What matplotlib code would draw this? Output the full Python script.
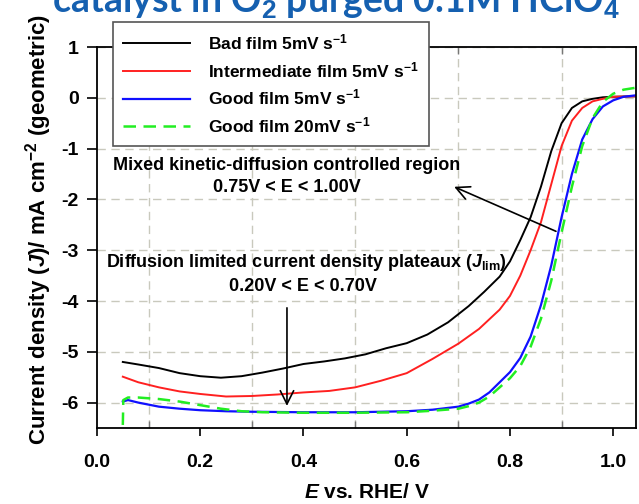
import numpy as np
import matplotlib
matplotlib.use("Agg")
import matplotlib.pyplot as plt

# ====== Data ======
bad_x = [0.05, 0.08, 0.12, 0.16, 0.20, 0.24, 0.28, 0.32, 0.36, 0.40, 0.44, 0.48,
         0.52, 0.56, 0.60, 0.64, 0.68, 0.72, 0.75, 0.78, 0.80, 0.82, 0.84, 0.86,
         0.88, 0.90, 0.92, 0.94, 0.96, 0.98, 1.00, 1.045]
bad_y = [-5.20, -5.25, -5.32, -5.42, -5.48, -5.51, -5.48, -5.41, -5.33, -5.24, -5.19, -5.13,
         -5.05, -4.93, -4.83, -4.66, -4.42, -4.10, -3.82, -3.52, -3.22, -2.80, -2.35, -1.75,
         -1.05, -0.50, -0.20, -0.07, -0.02, 0.01, 0.02, 0.03]

inter_x = [0.05, 0.08, 0.12, 0.16, 0.20, 0.25, 0.30, 0.35, 0.40, 0.45, 0.50, 0.55,
           0.60, 0.65, 0.70, 0.74, 0.78, 0.80, 0.82, 0.84, 0.86, 0.88, 0.90, 0.92,
           0.94, 0.96, 0.98, 1.00, 1.045]
inter_y = [-5.49, -5.60, -5.70, -5.78, -5.83, -5.88, -5.87, -5.84, -5.80, -5.77, -5.70, -5.57,
           -5.42, -5.14, -4.84, -4.55, -4.17, -3.90, -3.50, -3.00, -2.45, -1.70, -0.95, -0.45,
           -0.20, -0.07, -0.02, 0.02, 0.03]

good5_x = [0.05, 0.06, 0.08, 0.12, 0.16, 0.20, 0.25, 0.30, 0.40, 0.50, 0.60, 0.65,
           0.70, 0.72, 0.74, 0.76, 0.78, 0.80, 0.82, 0.84, 0.86, 0.88, 0.90, 0.92,
           0.94, 0.96, 0.98, 1.00, 1.02, 1.045]
good5_y = [-5.98, -5.95, -6.00, -6.08, -6.12, -6.15, -6.17, -6.18, -6.19, -6.19, -6.17, -6.14,
           -6.08, -6.02, -5.94, -5.80, -5.60, -5.40, -5.12, -4.70, -4.08, -3.30, -2.35, -1.50,
           -0.82, -0.42, -0.17, -0.05, 0.02, 0.05]

good20_x = [0.05, 0.051, 0.06, 0.08, 0.12, 0.16, 0.20, 0.24, 0.28, 0.32, 0.40, 0.50,
            0.60, 0.65, 0.70, 0.72, 0.74, 0.76, 0.78, 0.80, 0.82, 0.84, 0.86, 0.88,
            0.90, 0.92, 0.94, 0.96, 0.98, 1.00, 1.02, 1.045]
good20_y = [-6.44, -5.95, -5.90, -5.90, -5.93, -5.98, -6.05, -6.12, -6.17, -6.19, -6.20, -6.20,
            -6.19, -6.16, -6.12, -6.07, -6.00, -5.88, -5.70, -5.52, -5.28, -4.90, -4.35, -3.60,
            -2.65, -1.75, -0.95, -0.40, -0.08, 0.08, 0.16, 0.20]

labels = ["Bad film 5mV s$^{\\mathbf{-1}}$",
          "Intermediate film 5mV s$^{\\mathbf{-1}}$",
          "Good film 5mV s$^{\\mathbf{-1}}$",
          "Good film 20mV s$^{\\mathbf{-1}}$"]
x_ticks = [0.0, 0.2, 0.4, 0.6, 0.8, 1.0]
x_grid = [0.1, 0.3, 0.5, 0.7, 0.9]
y_ticks = [1, 0, -1, -2, -3, -4, -5, -6]
# ===========================================

plt.rcParams["font.family"] = ["Liberation Sans", "DejaVu Sans"]
plt.rcParams["font.weight"] = "bold"
plt.rcParams["axes.unicode_minus"] = False
plt.rcParams["mathtext.fontset"] = "custom"
plt.rcParams["mathtext.rm"] = "Liberation Sans:bold"
plt.rcParams["mathtext.bf"] = "Liberation Sans:bold"
plt.rcParams["mathtext.it"] = "Liberation Sans:italic:bold"

fig = plt.figure(figsize=(6.39, 5.04), dpi=100)
ax = fig.add_axes([97 / 639, 76 / 504, (639 - 97) / 639 - 0.004, (429 - 48) / 504])

ax.plot(bad_x, bad_y, color="black", lw=1.4, label=labels[0])
ax.plot(inter_x, inter_y, color="#ff2020", lw=1.4, label=labels[1])
ax.plot(good5_x, good5_y, color="#1010ff", lw=1.6, label=labels[2])
ax.plot(good20_x, good20_y, color="#22ee22", lw=1.8, dashes=(5, 3), label=labels[3])

ax.set_xlim(0, 1.045)
ax.set_ylim(-6.5, 1)
ax.set_xticks(x_ticks)
ax.set_xticklabels([f"{v:.1f}" for v in x_ticks])
ax.set_yticks(y_ticks)
ax.set_xticks(x_grid, minor=True)
ax.tick_params(axis="x", which="major", direction="out", length=6, width=1.2,
               labelsize=14, pad=13)
ax.tick_params(axis="y", which="major", direction="out", length=7, width=1.2,
               labelsize=14, pad=6)
ax.tick_params(axis="x", which="minor", direction="in", length=5, width=1,
               top=True, color="#777777")

# grid: horizontal at integers, vertical at odd tenths
ax.grid(True, axis="y", which="major", ls=(0, (6, 4)), color="#c9c9bd", lw=1)
ax.grid(True, axis="x", which="minor", ls=(0, (6, 4)), color="#c9c9bd", lw=1)
for s in ax.spines.values():
    s.set_linewidth(1.3)

ax.set_xlabel("$\\mathit{E}$ vs. RHE/ V", fontsize=15, fontweight="bold")
ax.xaxis.set_label_coords((368 - 97) / 542, (429 - 503) / 381)
ax.xaxis.label.set_va("bottom")
ax.set_ylabel("Current density ($\\mathit{J}$)/ mA cm$^{\\mathbf{-2}}$ (geometric)",
              fontsize=16, fontweight="bold")
ax.yaxis.set_label_coords((38 - 97) / 542, (429 - 230) / 381)
ax.yaxis.label.set_va("center")

# annotations
ax.text(0.368, -1.34, "Mixed kinetic-diffusion controlled region", ha="center",
        va="center", fontsize=13)
ax.text(0.368, -1.77, "0.75V < E < 1.00V", ha="center", va="center", fontsize=13)
ax.annotate("", xy=(0.687, -1.73), xytext=(0.894, -2.65),
            arrowprops=dict(arrowstyle="->", lw=1.2, color="black", mutation_scale=24))

ax.text(0.405, -3.25, "Diffusion limited current density plateaux ($\\mathit{J}_{\\mathregular{lim}}$)",
        ha="center", va="center", fontsize=13)
ax.text(0.399, -3.72, "0.20V < E < 0.70V", ha="center", va="center", fontsize=13)
ax.annotate("", xy=(0.368, -6.12), xytext=(0.368, -4.08),
            arrowprops=dict(arrowstyle="->", lw=1.2, color="black", mutation_scale=24))

leg = ax.legend(loc="upper left", bbox_to_anchor=(113 / 639, 1 - 22 / 504),
                bbox_transform=fig.transFigure, borderaxespad=0, fontsize=12.5,
                handlelength=3.85, handletextpad=1.0, labelspacing=0.45,
                borderpad=0.6, fancybox=False, framealpha=1)
leg.get_frame().set_edgecolor("#555555")
leg.get_frame().set_linewidth(1.2)
leg.set_zorder(5)

# title, cut off at the top edge as in the source slide
fig.text(52 / 639, 1 - 13 / 504, "catalyst in O$_\\mathbf{2}$ purged 0.1M HClO$_\\mathbf{4}$",
         color="#1560b0", fontsize=27, fontweight="bold", family=["Lato", "DejaVu Sans"],
         ha="left", va="baseline")

fig.savefig("out.png", dpi=100)
